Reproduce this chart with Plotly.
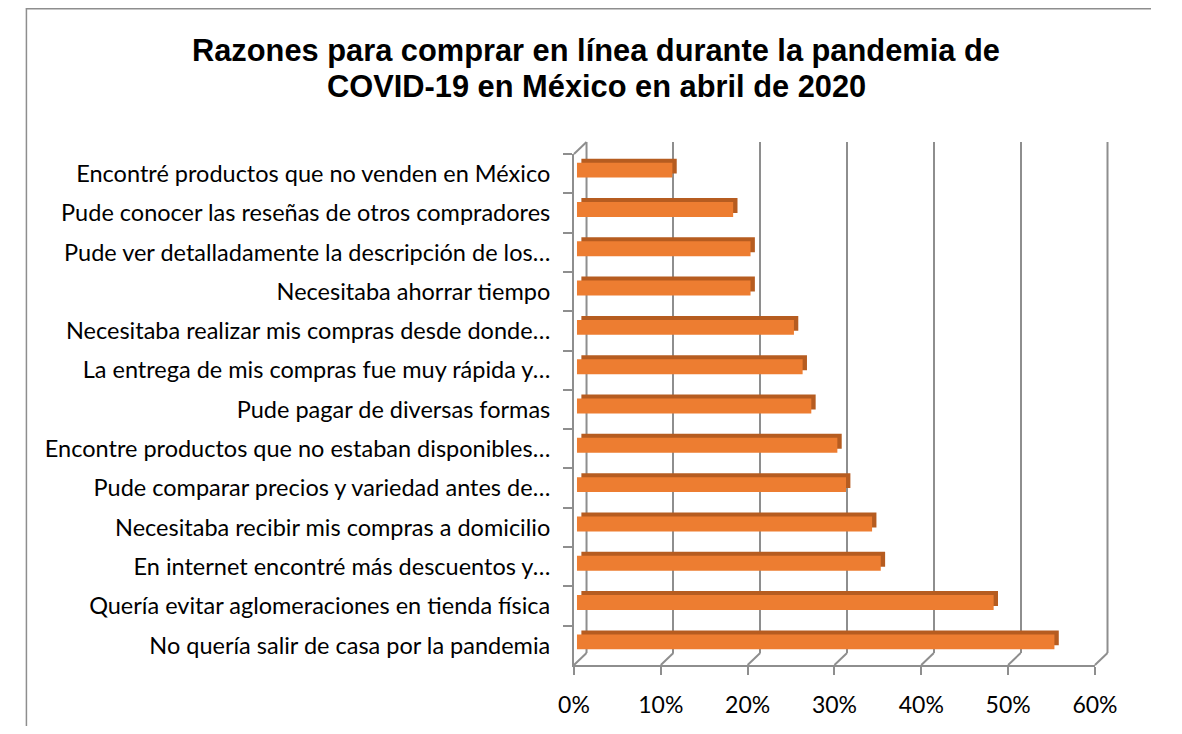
import plotly.graph_objects as go

# data, top to bottom as in the chart
razones = [
    "Encontré productos que no venden en México",
    "Pude conocer las reseñas de otros compradores",
    "Pude ver detalladamente la descripción de los…",
    "Necesitaba ahorrar tiempo",
    "Necesitaba realizar mis compras desde donde…",
    "La entrega de mis compras fue muy rápida y…",
    "Pude pagar de diversas formas",
    "Encontre productos que no estaban disponibles…",
    "Pude comparar precios y variedad antes de…",
    "Necesitaba recibir mis compras a domicilio",
    "En internet encontré más descuentos y…",
    "Quería evitar aglomeraciones en tienda física",
    "No quería salir de casa por la pandemia",
]
porcentajes = [11, 18, 20, 20, 25, 26, 27, 30, 31, 34, 35, 48, 55]
x_ticks = [0, 10, 20, 30, 40, 50, 60]
titulo = ["Razones para comprar en línea durante la pandemia de",
          "COVID-19 en México en abril de 2020"]

OFF = 8                                    # page margin around the plot div
W, H = 1182 - 2 * OFF, 734 - 2 * OFF
FX0, FX1, FY0, FY1 = 577, 1116, 154, 665   # front plane of the 3d box (page px)
BACK = (13, -12)                           # depth shift of back wall
BAR_FRONT = (3, -3.5)
BAR_BACK = (7.5, -7.5)
GRAY = '#8E8E8E'
FONT = 'Lato'


def px(x):
    return (x - OFF) / W


def py(y):
    return 1 - (y - OFF) / H


def dom(shift):
    dx, dy = shift
    return [px(FX0 + dx), px(FX1 + dx)], [py(FY1 + dy), py(FY0 + dy)]


yrange = [len(razones) - 0.5, -0.5]
clear = dict(color='rgba(0,0,0,0)', line_width=0)
fig = go.Figure()

# subplots are painted in axis order, so the box edges (x/y, page px) go first
step = (FX1 - FX0) / (x_ticks[-1] - x_ticks[0])
cx, cy = [], []
for t in x_ticks:
    fx = FX0 + (t - x_ticks[0]) * step
    cx += [fx, fx + BACK[0], None]
    cy += [FY1, FY1 + BACK[1], None]
cx += [FX0, FX0 + BACK[0], None]
cy += [FY0, FY0 + BACK[1], None]
for fx in [FX0, FX1]:
    cx += [fx + BACK[0], fx + BACK[0], None]
    cy += [FY0 + BACK[1], FY1 + BACK[1], None]
fig.add_trace(go.Scatter(x=cx, y=cy, mode='lines', xaxis='x', yaxis='y',
                         line=dict(color=GRAY, width=2), hoverinfo='skip', showlegend=False))

# back wall (gridlines) -> x2/y2
fig.add_trace(go.Bar(x=porcentajes, y=razones, orientation='h', xaxis='x2', yaxis='y2',
                     marker=clear, hoverinfo='skip', showlegend=False))
# dark top / side faces of the bars -> x3/y3
fig.add_trace(go.Bar(x=porcentajes, y=razones, orientation='h', xaxis='x3', yaxis='y3',
                     width=0.38, marker=dict(color='#B65C20', line_width=0),
                     hoverinfo='skip', showlegend=False))
# front faces -> x4/y4
fig.add_trace(go.Bar(x=porcentajes, y=razones, orientation='h', xaxis='x4', yaxis='y4',
                     width=0.38, marker=dict(color='#ED7D31', line_width=0),
                     hovertemplate='%{y}: %{x}%<extra></extra>', showlegend=False))
# front axes with labels -> x5/y5
fig.add_trace(go.Bar(x=porcentajes, y=razones, orientation='h', xaxis='x5', yaxis='y5',
                     marker=clear, hoverinfo='skip', showlegend=False))

hidden_x = dict(range=[0, 60], showgrid=False, zeroline=False, showticklabels=False,
                ticks='', showline=False, fixedrange=True)
hidden_y = dict(type='category', range=yrange, showgrid=False, showticklabels=False,
                ticks='', showline=False, fixedrange=True)

fig.update_layout(
    xaxis=dict(domain=[0, 1], anchor='y', range=[OFF, W + OFF], visible=False, fixedrange=True),
    yaxis=dict(domain=[0, 1], anchor='x', range=[H + OFF, OFF], visible=False, fixedrange=True),
)
xd, yd = dom(BACK)
fig.update_layout(
    xaxis2=dict(hidden_x, domain=xd, anchor='y2', showgrid=True, gridcolor=GRAY, gridwidth=2,
                tickvals=x_ticks),
    yaxis2=dict(hidden_y, domain=yd, anchor='x2'),
)
xd, yd = dom(BAR_BACK)
fig.update_layout(xaxis3=dict(hidden_x, domain=xd, anchor='y3'),
                  yaxis3=dict(hidden_y, domain=yd, anchor='x3'))
xd, yd = dom(BAR_FRONT)
fig.update_layout(xaxis4=dict(hidden_x, domain=xd, anchor='y4'),
                  yaxis4=dict(hidden_y, domain=yd, anchor='x4'))
xd, yd = dom((0, 0))
fig.update_layout(
    xaxis5=dict(domain=xd, anchor='y5', range=[0, 60], tickvals=x_ticks,
                ticktext=[f'{t}%' for t in x_ticks], showgrid=False, zeroline=False,
                showline=True, linecolor=GRAY, linewidth=2, ticks='outside', ticklen=8,
                tickwidth=2, tickcolor=GRAY, ticklabelstandoff=10,
                tickfont=dict(family=FONT, size=23, color='black'), fixedrange=True),
    yaxis5=dict(domain=yd, anchor='x5', type='category', range=yrange, showgrid=False,
                showline=True, linecolor=GRAY, linewidth=2, ticks='outside', ticklen=9,
                tickwidth=2, tickcolor=GRAY, tickson='boundaries', ticklabelstandoff=17,
                tickfont=dict(family=FONT, size=23.5, color='black'), fixedrange=True),
)

fig.update_layout(
    width=W, height=H,
    margin=dict(l=0, r=0, t=0, b=0),
    paper_bgcolor='white', plot_bgcolor='rgba(0,0,0,0)',
    annotations=[
        dict(xref='paper', yref='paper', x=px(600), y=py(yc), text=f'<b>{line}</b>',
             showarrow=False, xanchor='center', yanchor='middle',
             font=dict(family='Liberation Sans', size=30.8, color='black'))
        for line, yc in zip(titulo, [50, 86])
    ],
    shapes=[
        dict(type='line', xref='paper', yref='paper', x0=px(10.5), x1=px(10.5),
             y0=1, y1=0, line=dict(color=GRAY, width=1.5)),
        dict(type='line', xref='paper', yref='paper', x0=px(10), x1=1,
             y0=py(OFF + 0.75), y1=py(OFF + 0.75), line=dict(color=GRAY, width=1.5)),
    ],
)

fig.write_html("out.html")
